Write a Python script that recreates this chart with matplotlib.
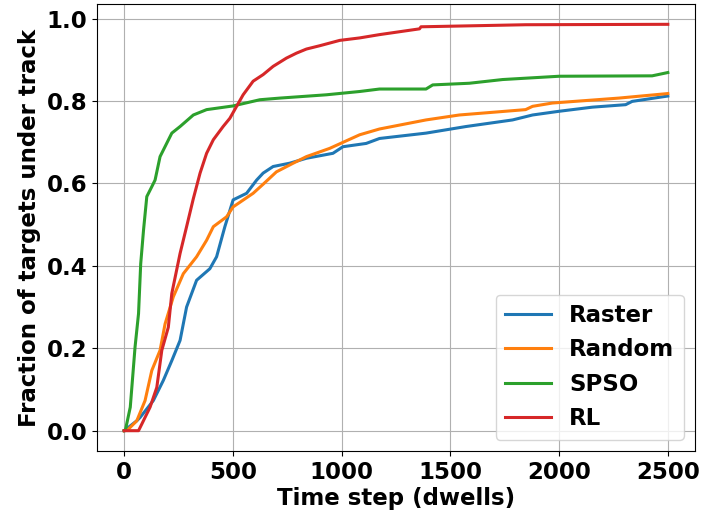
import matplotlib
matplotlib.use("Agg")
import matplotlib.pyplot as plt

# values
raster_x = [0, 58, 73, 134, 180, 219, 257, 287, 333, 394, 425, 463, 501, 563, 609, 639, 685, 761,
            838, 960, 1006, 1113, 1174, 1388, 1572, 1786, 1878, 2000, 2153, 2306, 2336, 2500]
raster_y = [0, 0.024, 0.032, 0.073, 0.122, 0.170, 0.219, 0.300, 0.365, 0.393, 0.422, 0.495, 0.560,
            0.576, 0.608, 0.625, 0.641, 0.649, 0.661, 0.673, 0.689, 0.697, 0.709, 0.722, 0.738,
            0.754, 0.766, 0.775, 0.785, 0.791, 0.799, 0.812]

random_x = [0, 20, 58, 96, 127, 165, 188, 226, 272, 333, 379, 410, 471, 501, 593, 639, 700, 777,
            838, 945, 1083, 1174, 1388, 1541, 1846, 1878, 1969, 2275, 2500]
random_y = [0, 0.004, 0.024, 0.073, 0.146, 0.195, 0.259, 0.325, 0.381, 0.422, 0.462, 0.495, 0.519,
            0.543, 0.576, 0.598, 0.628, 0.649, 0.665, 0.685, 0.718, 0.732, 0.754, 0.766, 0.779,
            0.787, 0.795, 0.807, 0.818]

spso_x = [0, 5, 28, 50, 66, 76, 89, 104, 127, 142, 165, 219, 257, 318, 379, 501, 624, 716, 930,
          1083, 1174, 1388, 1419, 1587, 1740, 2000, 2428, 2500]
spso_y = [0, 0, 0.057, 0.203, 0.284, 0.405, 0.487, 0.568, 0.592, 0.608, 0.665, 0.722, 0.738,
          0.766, 0.779, 0.788, 0.803, 0.807, 0.815, 0.823, 0.829, 0.829, 0.839, 0.843, 0.852,
          0.860, 0.861, 0.869]

rl_x = [0, 66, 81, 119, 150, 173, 203, 219, 257, 287, 318, 349, 379, 410, 455, 486, 517, 547, 593,
        639, 685, 746, 792, 838, 899, 991, 1083, 1174, 1358, 1365, 1846, 2500]
rl_y = [0, 0, 0.016, 0.057, 0.105, 0.195, 0.251, 0.333, 0.430, 0.495, 0.563, 0.625, 0.673, 0.706,
        0.738, 0.758, 0.787, 0.815, 0.848, 0.864, 0.884, 0.904, 0.916, 0.926, 0.934, 0.947,
        0.953, 0.961, 0.975, 0.980, 0.985, 0.986]

plt.rcParams['font.weight'] = 'bold'
plt.rcParams['axes.labelweight'] = 'bold'
plt.rcParams['font.size'] = 16.5

fig = plt.figure(figsize=(7.04, 5.19), dpi=100)
ax = fig.add_axes([97 / 704, 68 / 519, 598 / 704, 447 / 519])

ax.plot(raster_x, raster_y, lw=2.2, label='Raster')
ax.plot(random_x, random_y, lw=2.2, label='Random')
ax.plot(spso_x, spso_y, lw=2.2, label='SPSO')
ax.plot(rl_x, rl_y, lw=2.2, label='RL')

ax.set_xlabel('Time step (dwells)', labelpad=2)
ax.set_ylabel('Fraction of targets under track', labelpad=4)
ax.grid(True)
ax.legend(loc='lower right')

fig.savefig('out.png', dpi=100)
